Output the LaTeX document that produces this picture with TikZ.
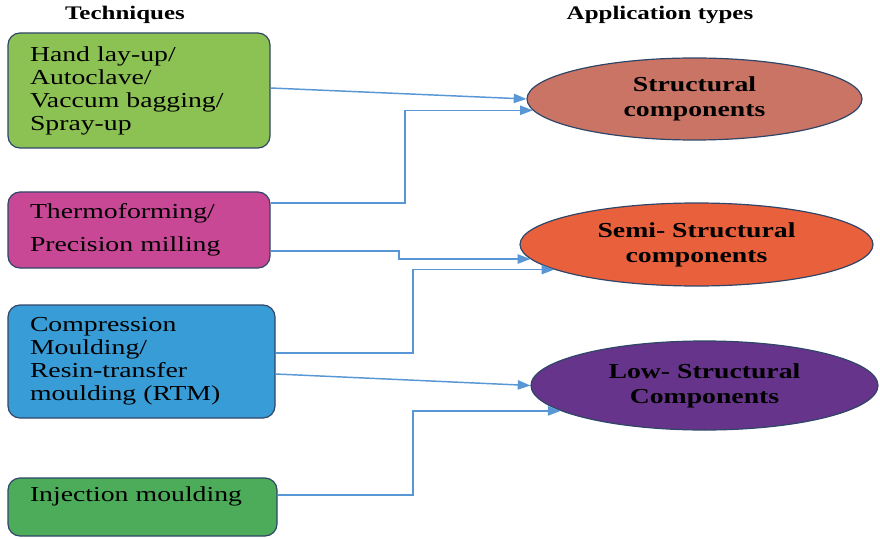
\documentclass[tikz,border=0pt]{standalone}
\usepackage{fontspec}
\setmainfont{Liberation Serif}[FakeStretch=1.3]
\usetikzlibrary{shapes.geometric,arrows.meta}
\definecolor{handgreen}{RGB}{140,194,84}
\definecolor{thermpink}{RGB}{200,72,150}
\definecolor{compblue}{RGB}{56,156,214}
\definecolor{injgreen}{RGB}{76,172,90}
\definecolor{structred}{RGB}{201,116,100}
\definecolor{semiorange}{RGB}{232,96,60}
\definecolor{lowpurple}{RGB}{102,52,138}
\definecolor{edgeblue}{RGB}{48,70,104}
\definecolor{arrowblue}{RGB}{88,150,214}
\begin{document}
\begin{tikzpicture}
  [x=0.75pt, y=-0.75pt,
    tech/.style={draw=edgeblue, line width=0.9pt, rounded corners=9pt,
    align=left, inner xsep=16.5pt, font=\fontsize{16}{17.25}\selectfont},
    app/.style={ellipse, draw=edgeblue, line width=0.9pt, inner sep=0pt,
    align=center, font=\fontsize{16}{18.75}\selectfont\bfseries},
    head/.style={font=\fontsize{14.4}{16}\selectfont\bfseries},
    conn/.style={draw=arrowblue, line width=1.1pt,
    -{Triangle[length=9.5pt,width=7pt]}}]
  \useasboundingbox (0,0) rectangle (880,538);

  % headings
  \node[head] (techhead) at (125,15) {Techniques};
  \node[head] (apphead) at (660,15) {Application types};

  % techniques
  \node[tech, fill=handgreen, minimum width=196.5pt, minimum height=86.25pt,
    text width=163.5pt] (hand) at (139,90.5)
    {Hand lay-up/\\Autoclave/\\Vaccum bagging/\\Spray-up};
  \node[tech, fill=thermpink, minimum width=196.5pt, minimum height=57pt,
    text width=163.5pt, font=\fontsize{16}{24.75}\selectfont] (therm) at (139,230)
    {Thermoforming/\\Precision milling};
  \node[tech, fill=compblue, minimum width=200.25pt, minimum height=84.75pt,
    text width=167.25pt] (comp) at (141.5,361.5)
    {Compression\\Moulding/\\Resin-transfer\\moulding (RTM)};
  \node[tech, fill=injgreen, minimum width=201.75pt, minimum height=43.5pt,
    text width=168.75pt, text depth=20pt] (inj) at (142.5,507)
    {Injection moulding};

  % application types
  \node[app, fill=structred, minimum width=251.25pt, minimum height=61.5pt]
    (struct) at (694.5,99) {Structural\\components};
  \node[app, fill=semiorange, minimum width=264.75pt, minimum height=62.25pt]
    (semi) at (696.5,244.5) {Semi- Structural\\components};
  \node[app, fill=lowpurple, minimum width=260.25pt, minimum height=66.75pt]
    (low) at (704.5,385.5) {Low- Structural\\Components};

  % connectors
  \draw[conn] (hand.east |- 0,88) -- (struct.west);
  \draw[conn] (therm.east |- 0,203) -| (405,0 |- struct.184) -- (struct.184);
  \draw[conn] (therm.east |- 0,251) -| (399,0 |- semi.185) -- (semi.185);
  \draw[conn] (comp.east |- 0,353) -| (413,0 |- semi.190) -- (semi.190);
  \draw[conn] (comp.east |- 0,374) -- (low.west);
  \draw[conn] (inj.east |- 0,495) -| (413,0 |- low.190) -- (low.190);
\end{tikzpicture}
\end{document}
